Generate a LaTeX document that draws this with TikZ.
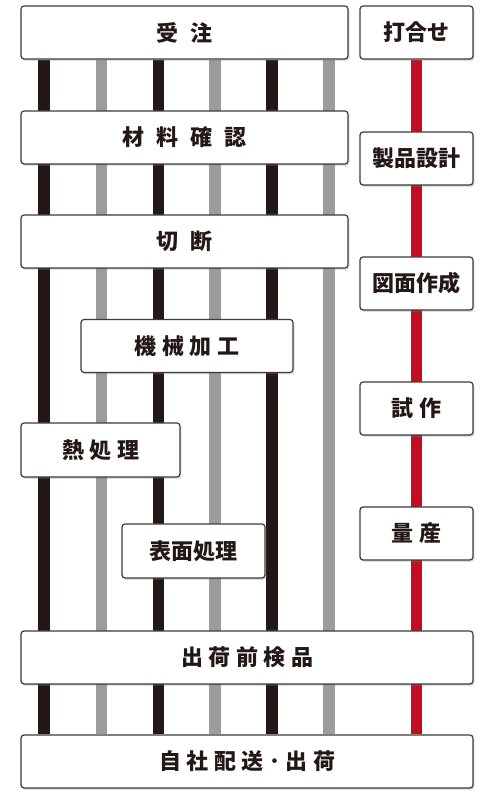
\documentclass[tikz,border=0pt]{standalone}
\usepackage{fontspec}
\newfontfamily\jpfont{Noto Sans CJK JP}
\newfontfamily\jpwide{Noto Sans CJK JP}[LetterSpace=55]
\newfontfamily\jpmid{Noto Sans CJK JP}[LetterSpace=25]
\usetikzlibrary{shadows,backgrounds}
\definecolor{rblack}{HTML}{231815}
\definecolor{rgray}{HTML}{9C9C9C}
\definecolor{rred}{HTML}{C30D23}
\definecolor{rframe}{HTML}{3E3A39}
\tikzset{
  box/.style={draw=rframe, line width=1.2pt, fill=white, rounded corners=3pt,
    text=rblack, inner sep=0pt, minimum height=53pt,
    drop shadow={opacity=.25, shadow xshift=1.5pt, shadow yshift=-2pt}},
  wide/.style={font=\jpwide\bfseries\fontsize{22}{26}\selectfont},
  mid/.style={font=\jpmid\bfseries\fontsize{22}{26}\selectfont},
  tight/.style={font=\jpfont\bfseries\fontsize{22}{26}\selectfont},
  lblack/.style={rblack, line width=11.5pt},
  lgray/.style={rgray, line width=11.5pt},
  lred/.style={rred, line width=11pt}
}
\begin{document}
\begin{tikzpicture}[x=1pt, y=1pt]
\useasboundingbox (0,0) rectangle (500,800);
% left column
\node[box, wide, minimum width=327pt] (juchu) at (184.5,767.5) {受注};
\node[box, wide, minimum width=327pt] (zairyo) at (184.5,662.5) {材料確認};
\node[box, wide, minimum width=327pt] (setsudan) at (184.5,558.5) {切断};
\node[box, mid, minimum width=212pt] (kikai) at (187,454) {機械加工};
\node[box, mid, minimum width=159pt, minimum height=54pt] (netsu) at (100.5,350) {熱処理};
\node[box, tight, minimum width=143pt, minimum height=54pt] (hyomen) at (193.5,249) {表面処理};
\node[box, mid, minimum width=452pt] (kenpin) at (247,142.5) {出荷前検品};
\node[box, mid, minimum width=452pt] (haiso) at (247,38.5) {自社配送･出荷};
% right column
\node[box, tight, minimum width=113pt] (uchiawase) at (416.5,767.5) {打合せ};
\node[box, tight, minimum width=113pt] (seihin) at (416.5,641.5) {製品設計};
\node[box, tight, minimum width=113pt] (zumen) at (416.5,516.5) {図面作成};
\node[box, mid, minimum width=113pt] (shisaku) at (416.5,391.5) {試作};
\node[box, mid, minimum width=113pt] (ryosan) at (416.5,266.5) {量産};
% lines behind the boxes
\begin{scope}[on background layer]
\foreach \i/\x/\s in {1/44/lblack, 2/101.5/lgray, 3/158.5/lblack, 4/215/lgray, 5/272/lblack, 6/329/lgray}{
  \coordinate (c\i) at (\x,0);
  \draw[\s] (juchu.south -| c\i) -- (haiso.north -| c\i);
}
\draw[lred] (uchiawase.south) -- (haiso.north -| uchiawase.south);
\end{scope}
\end{tikzpicture}
\end{document}
